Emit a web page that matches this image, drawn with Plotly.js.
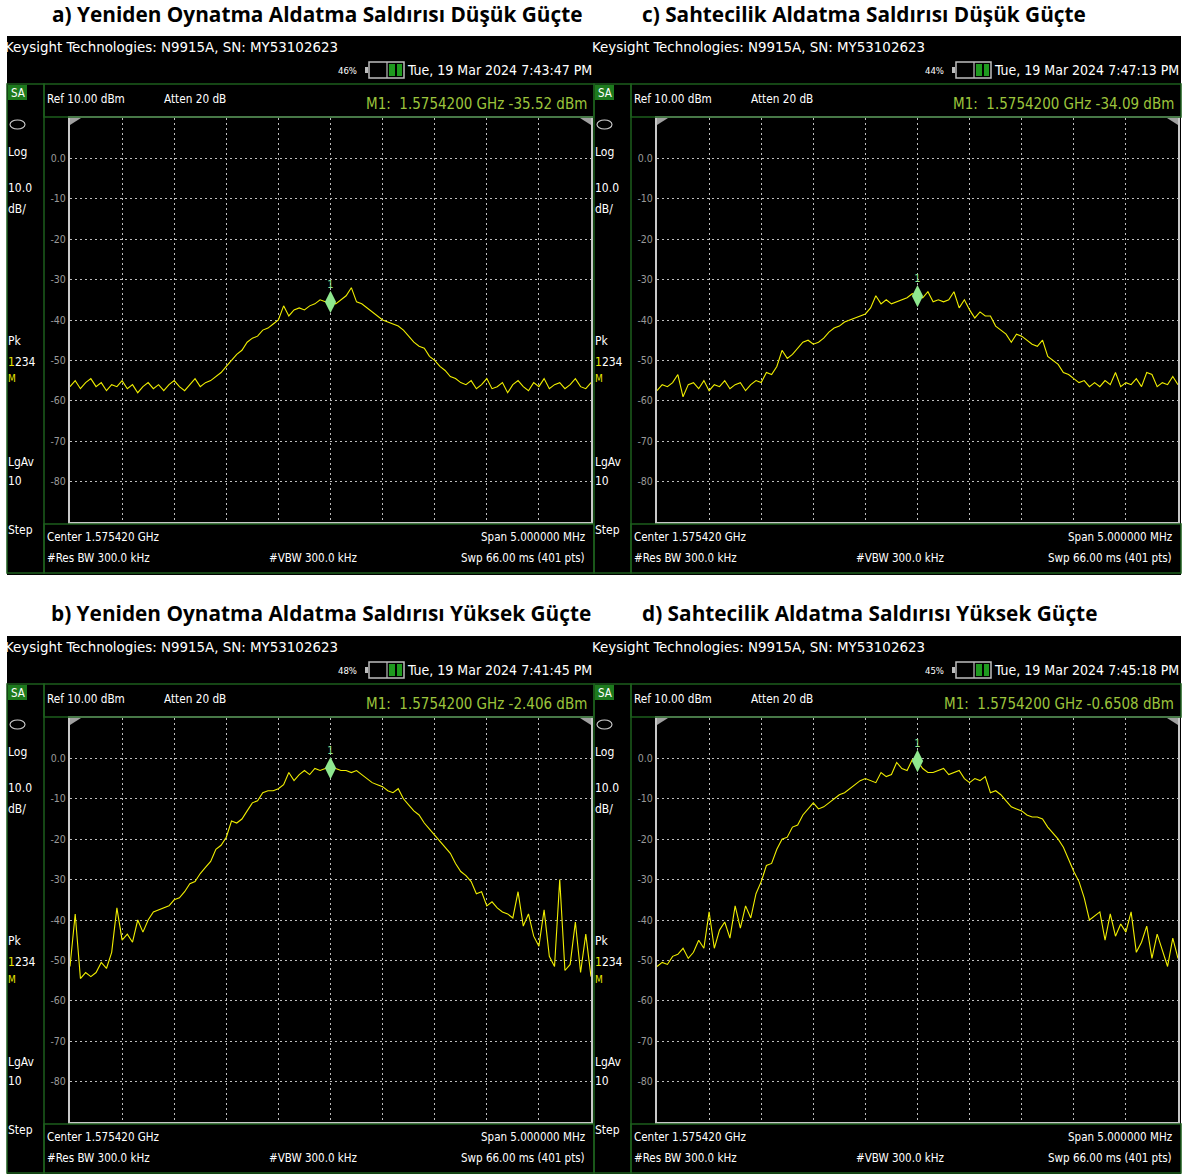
<!DOCTYPE html>
<html>
<head>
<meta charset="utf-8">
<script src="https://cdn.plot.ly/plotly-3.0.1.min.js"></script>
<style>
  html, body { margin: 0; padding: 0; background: #fff; }
  #chart { width: 1190px; height: 1174px; }
</style>
</head>
<body>
<div id="chart"></div>
<script>
// Four N9915A spectrum captures around the GPS L1 carrier (1.575420 GHz, 5 MHz span).
// Each trace is sampled every 0.05 MHz across the span (101 points), in dBm.

const replayLow = [
  -56.5, -55.0, -57.0, -55.5, -54.5, -56.5, -55.5, -57.5, -56.0, -56.5,
  -55.0, -57.0, -56.0, -58.0, -56.5, -55.5, -57.0, -56.0, -57.5, -56.0,
  -55.0, -56.5, -57.5, -56.0, -54.5, -56.5, -55.5, -55.0, -54.0, -53.0,
  -51.5, -50.0, -48.5, -47.5, -45.5, -44.5, -44.0, -42.5, -42.0, -41.0,
  -40.0, -36.5, -39.0, -37.5, -37.0, -37.5, -36.5, -36.0, -35.0, -35.5,
  -35.52, -36.0, -35.0, -34.0, -32.0, -35.5, -36.0, -37.0, -38.0, -39.0,
  -40.0, -40.5, -41.0, -41.5, -42.5, -44.0, -45.5, -46.5, -47.0, -49.0,
  -50.0, -51.5, -52.5, -54.0, -54.5, -55.5, -56.0, -55.0, -57.0, -56.0,
  -54.5, -57.0, -56.5, -55.5, -58.0, -56.0, -55.0, -56.5, -57.5, -55.5,
  -56.5, -54.5, -57.0, -56.0, -55.5, -57.0, -56.0, -54.5, -56.5, -57.0,
  -55.5
];

const spoofLow = [
  -57.5, -56.0, -56.5, -55.5, -53.5, -59.0, -56.0, -55.5, -57.0, -55.0,
  -57.5, -56.0, -56.5, -55.0, -57.0, -56.0, -55.5, -57.5, -56.0, -55.0,
  -55.5, -53.0, -53.5, -51.5, -47.5, -49.5, -48.5, -47.0, -45.5, -45.0,
  -46.0, -45.5, -44.5, -43.0, -42.0, -41.5, -40.5, -40.0, -39.5, -39.0,
  -38.5, -37.0, -34.0, -36.0, -35.0, -36.0, -35.5, -35.0, -34.5, -33.5,
  -34.09, -34.5, -33.0, -35.5, -35.0, -35.5, -35.0, -33.0, -37.0, -35.0,
  -37.5, -39.5, -38.0, -39.0, -39.0, -41.5, -42.5, -43.5, -45.5, -43.5,
  -44.0, -45.0, -46.0, -46.5, -45.0, -49.0, -50.0, -51.0, -53.0, -53.5,
  -54.5, -55.5, -55.0, -56.5, -55.5, -56.5, -55.0, -56.0, -53.0, -56.5,
  -55.5, -56.0, -54.5, -56.5, -53.0, -53.5, -56.5, -55.5, -56.0, -54.0,
  -56.0
];

const replayHigh = [
  -51.5, -38.5, -54.5, -53.0, -54.0, -53.0, -50.5, -52.0, -48.0, -37.0,
  -45.0, -43.5, -45.5, -40.0, -43.0, -40.0, -38.0, -37.5, -37.0, -36.5,
  -35.0, -34.5, -33.0, -31.0, -30.5, -28.5, -27.0, -25.5, -22.5, -21.5,
  -19.5, -15.5, -16.0, -15.0, -13.0, -11.0, -10.5, -8.5, -8.0, -8.0,
  -7.5, -6.5, -3.5, -5.5, -4.0, -3.0, -4.0, -2.5, -3.0, -2.5,
  -2.406, -2.5, -3.0, -3.0, -3.5, -3.0, -4.0, -5.0, -6.0, -6.5,
  -7.0, -8.0, -8.5, -7.5, -10.0, -11.5, -13.0, -14.0, -16.0, -17.5,
  -19.0, -20.5, -22.0, -23.5, -26.0, -28.0, -29.0, -30.5, -33.5, -33.0,
  -36.5, -35.5, -37.0, -38.0, -38.5, -39.5, -33.0, -41.5, -38.5, -44.0,
  -46.5, -37.5, -49.0, -51.5, -30.0, -52.5, -51.0, -40.5, -53.0, -43.5,
  -54.0
];

const spoofHigh = [
  -51.5, -50.5, -51.0, -49.0, -48.5, -47.0, -49.5, -48.0, -45.0, -47.0,
  -38.0, -47.0, -42.5, -40.5, -44.5, -36.5, -42.0, -36.5, -39.5, -33.5,
  -30.5, -26.5, -26.0, -22.5, -20.0, -19.5, -17.0, -16.5, -14.0, -12.5,
  -11.0, -12.5, -12.0, -11.0, -10.0, -9.0, -8.5, -7.5, -6.5, -5.5,
  -5.0, -5.5, -6.0, -3.5, -4.5, -4.0, -1.0, -2.5, -3.0, -0.3,
  -0.6508, -2.5, -3.5, -3.5, -3.0, -2.5, -4.0, -3.5, -3.0, -5.0,
  -6.0, -5.0, -5.5, -4.5, -8.5, -8.0, -9.0, -10.5, -12.0, -12.5,
  -13.0, -14.0, -14.5, -14.5, -15.0, -17.0, -18.5, -20.0, -22.0, -25.0,
  -28.0, -30.5, -34.5, -40.0, -39.0, -38.0, -45.0, -38.5, -44.0, -41.0,
  -43.0, -38.0, -48.0, -45.5, -41.5, -49.5, -43.5, -47.5, -51.5, -44.5,
  -49.5
];

// Panel order: a, c (top row), b, d (bottom row)
const panelTitles = [
  'a) Yeniden Oynatma Aldatma Saldırısı Düşük Güçte',
  'c) Sahtecilik Aldatma Saldırısı Düşük Güçte',
  'b) Yeniden Oynatma Aldatma Saldırısı Yüksek Güçte',
  'd) Sahtecilik Aldatma Saldırısı Yüksek Güçte'
];
const captureTimes = [
  'Tue, 19 Mar 2024 7:43:47 PM',
  'Tue, 19 Mar 2024 7:47:13 PM',
  'Tue, 19 Mar 2024 7:41:45 PM',
  'Tue, 19 Mar 2024 7:45:18 PM'
];
const batteryLevels = ['46%', '44%', '48%', '45%'];
const markerDbm = [-35.52, -34.09, -2.406, -0.6508];
const markerFreq = '1.5754200 GHz';

const yTickVals = [0, -10, -20, -30, -40, -50, -60, -70, -80];
const yTickText = ['0.0', '-10', '-20', '-30', '-40', '-50', '-60', '-70', '-80'];
const offsetMHz = replayLow.map((_, i) => (i - 50) * 0.05);

const series = [replayLow, spoofLow, replayHigh, spoofHigh];

// ---- drawing ----
const W = 1190, H = 1174;
const px = v => v / W;
const py = v => 1 - v / H;
const NARROW = 'DejaVu Sans Condensed, Liberation Sans Narrow, sans-serif';
const FRAME_GREEN = '#1d5e1d';
const READOUT = '#9cc43c';
const TRACE = '#f0ee00';
const MARKER = '#8fe88f';

const titleCenters = [[317, 14], [864, 14], [321, 613], [869, 613]];
const origins = [[0, 0], [587, 0], [0, 600], [587, 600]];

const traces = [];
const shapes = [];
const annotations = [];
const layout = {
  width: W, height: H,
  margin: { l: 0, r: 0, t: 0, b: 0 },
  paper_bgcolor: '#ffffff',
  plot_bgcolor: '#000000',
  showlegend: false,
  shapes: shapes,
  annotations: annotations
};

panelTitles.forEach((title, k) => {
  const [ox, oy] = origins[k];
  const n = k === 0 ? '' : String(k + 1);
  const xa = 'x' + n, ya = 'y' + n;

  const rect = (x0, y0, x1, y1, line, fill, layer) => shapes.push({
    type: 'rect', xref: 'paper', yref: 'paper', layer: layer || 'above',
    x0: px(x0 + ox), x1: px(x1 + ox), y0: py(y0 + oy), y1: py(y1 + oy),
    line: line ? { color: line, width: 1.5 } : { width: 0 },
    fillcolor: fill || 'rgba(0,0,0,0)'
  });
  const path = (pts, fill) => shapes.push({
    type: 'path', xref: 'paper', yref: 'paper', layer: 'above',
    path: 'M ' + pts.map(([x, y]) => px(x + ox) + ' ' + py(y + oy)).join(' L ') + ' Z',
    fillcolor: fill, line: { width: 0 }
  });
  const txt = (x, y, text, size, color, anchor, family) => annotations.push({
    xref: 'paper', yref: 'paper', x: px(x + ox), y: py(y + oy),
    text: text, showarrow: false, xanchor: anchor || 'left', yanchor: 'middle',
    borderpad: 0,
    font: { family: family || NARROW, size: size, color: color || '#ffffff' }
  });

  // instrument screen
  rect(7, 36, 594, 575, null, '#000000', 'below');

  // status line
  txt(4, 47, 'Keysight Technologies: N9915A, SN: MY53102623', 14.9);
  txt(358, 70, batteryLevels[k], 9.5, '#ffffff', 'right');
  rect(369, 62, 404, 78, '#bdbdbd', null);
  rect(365, 67, 368, 73, null, '#bdbdbd');
  shapes.push({ type: 'line', xref: 'paper', yref: 'paper', layer: 'above',
    x0: px(387 + ox), x1: px(387 + ox), y0: py(62 + oy), y1: py(78 + oy),
    line: { color: '#bdbdbd', width: 1.2 } });
  rect(389, 64, 395, 76, null, '#1f9a1f');
  rect(397, 64, 402, 76, null, '#1f9a1f');
  txt(593, 70, captureTimes[k], 14, '#ffffff', 'right');

  // left softkey column
  rect(7, 84, 44, 573, FRAME_GREEN, null);
  rect(8, 85, 27, 100, null, '#1d7a1d');
  txt(17.5, 93, 'SA', 11.5, '#ffffff', 'center');
  shapes.push({ type: 'circle', xref: 'paper', yref: 'paper', layer: 'above',
    x0: px(10 + ox), x1: px(25 + ox), y0: py(120 + oy), y1: py(129 + oy),
    line: { color: '#d0d0d0', width: 1.1 } });
  txt(7, 152, 'Log', 12);
  txt(7, 188, '10.0', 12);
  txt(7, 209, 'dB/', 12);
  txt(7, 341, 'Pk', 12);
  txt(7, 362, '<span style="color:#e8e800">1</span>234', 12);
  txt(7, 379, 'M', 10, '#e8e800');
  txt(7, 462, 'LgAv', 12);
  txt(7, 481, '10', 12);
  txt(7, 530, 'Step', 12);

  // settings bar above the graticule
  rect(44, 84, 594, 117, FRAME_GREEN, null);
  txt(46, 99, 'Ref 10.00 dBm', 11.7);
  txt(163, 99, 'Atten 20 dB', 11.7);
  txt(588, 104, 'M1:\u00a0\u00a0' + markerFreq + ' ' + markerDbm[k] + ' dBm', 15, READOUT, 'right');

  // settings bar below the graticule
  rect(44, 524, 594, 573, FRAME_GREEN, null);
  txt(46, 537, 'Center 1.575420 GHz', 11.5);
  txt(586, 537, 'Span 5.000000 MHz', 11.5, '#ffffff', 'right');
  txt(46, 558, '#Res BW 300.0 kHz', 11.5);
  txt(268, 558, '#VBW 300.0 kHz', 11.5);
  txt(586, 558, 'Swp 66.00 ms (401 pts)', 11.5, '#ffffff', 'right');

  // corner flags of the graticule
  path([[70, 118], [81, 118], [70, 125]], '#a0a0a0');
  path([[591, 118], [580, 118], [591, 125]], '#a0a0a0');

  // title
  annotations.push({
    xref: 'paper', yref: 'paper', x: px(titleCenters[k][0]), y: py(titleCenters[k][1]),
    text: title, showarrow: false, xanchor: 'center', yanchor: 'middle',
    font: { family: 'Open Sans, Noto Sans, sans-serif', size: 20.8, weight: 700, color: '#000000' }
  });

  // graticule
  layout['xaxis' + n] = {
    domain: [px(70 + ox), px(591 + ox)], anchor: ya,
    range: [-2.5, 2.5], dtick: 0.5, tick0: -2.5,
    showticklabels: false, ticks: '', zeroline: false,
    showgrid: true, gridcolor: '#bdbdbd', gridwidth: 1, griddash: '2px,3px',
    showline: true, mirror: true, linecolor: '#c8c8c8', linewidth: 2,
    fixedrange: true
  };
  layout['yaxis' + n] = {
    domain: [py(522 + oy), py(118 + oy)], anchor: xa,
    range: [-90, 10], tickmode: 'array', tickvals: yTickVals, ticktext: yTickText,
    ticks: '', zeroline: false,
    tickfont: { family: NARROW, size: 10.5, color: '#9a9a9a' },
    showgrid: true, gridcolor: '#bdbdbd', gridwidth: 1, griddash: '2px,3px',
    showline: true, mirror: true, linecolor: '#c8c8c8', linewidth: 2,
    fixedrange: true
  };

  traces.push({
    type: 'scatter', mode: 'lines', xaxis: xa, yaxis: ya,
    x: offsetMHz, y: series[k],
    line: { color: TRACE, width: 1.1 },
    hoverinfo: 'skip'
  });
  traces.push({
    type: 'scatter', mode: 'markers+text', xaxis: xa, yaxis: ya,
    x: [0], y: [markerDbm[k]],
    marker: { symbol: 'diamond-tall', size: 16, color: MARKER },
    text: ['1'], textposition: 'top center',
    textfont: { family: NARROW, size: 11, color: MARKER },
    cliponaxis: false, hoverinfo: 'skip'
  });
});

Plotly.newPlot('chart', traces, layout, { staticPlot: true, displayModeBar: false });
</script>
</body>
</html>
